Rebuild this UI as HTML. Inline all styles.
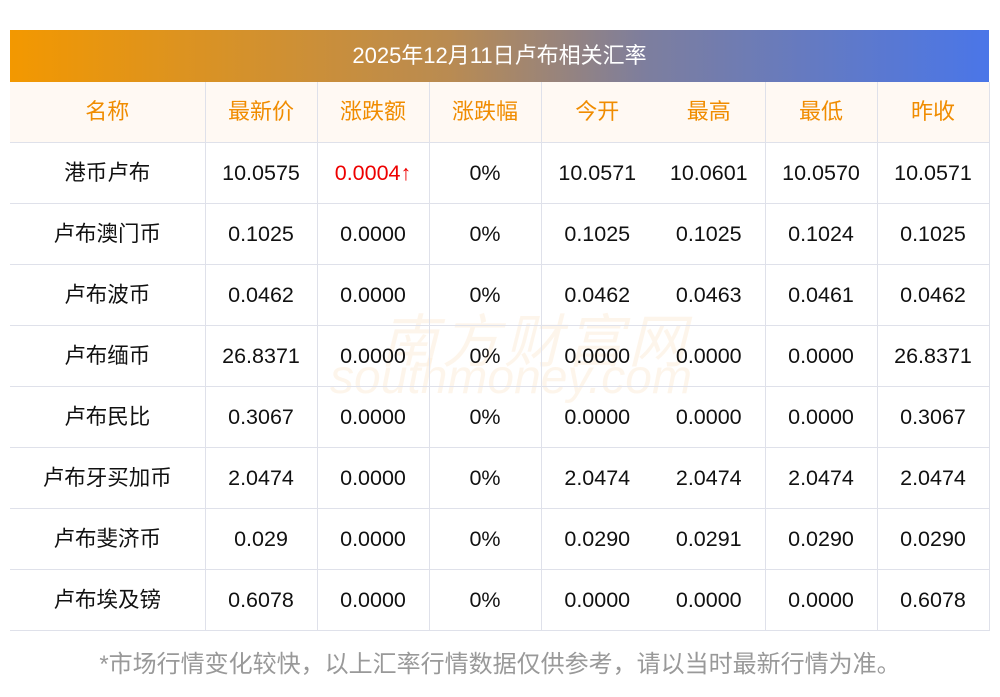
<!DOCTYPE html>
<html><head><meta charset="utf-8"><style>
body{margin:0;background:#fff;width:1000px;height:697px;position:relative;overflow:hidden;font-family:"Liberation Sans","Noto Sans CJK SC",sans-serif}
.bar{position:absolute;left:10px;top:30px;width:979px;height:52px;background:linear-gradient(90deg,#f39800,#b98b52 45%,#7d7e9e 65%,#4a76e8);color:#fff;font-size:22px;text-align:center;line-height:52px}
table{position:absolute;left:10px;top:82px;border-collapse:collapse;table-layout:fixed;width:979px}
td{height:60px;border-bottom:1px solid #dfe1ea;text-align:center;font-size:21.5px;line-height:24px;color:#111;padding:0;vertical-align:middle}
tr.h td{background:#fff9f3;color:#f08c00;font-size:22px}
td.b{border-right:1px solid #dfe1ea}
.r{color:#e00}
.wm{position:absolute;color:#fdeedc;opacity:.55;font-style:italic}
.ft{position:absolute;top:650px;left:0;width:1000px;text-align:center;color:#999;font-size:24px;line-height:30px}
</style></head><body>
<div class="bar">2025年12月11日卢布相关汇率</div>
<div class="wm" style="left:380px;top:295px;font-size:58px;letter-spacing:4px">南方财富网</div>
<div class="wm" style="left:330px;top:350px;font-size:48px">southmoney.com</div>
<table>
<colgroup><col style="width:195px"><col style="width:112px"><col style="width:112px"><col style="width:112px"><col style="width:112px"><col style="width:112px"><col style="width:112px"><col style="width:112px"></colgroup>
<tr class="h"><td class="b">名称</td><td class="b">最新价</td><td class="b">涨跌额</td><td class="b">涨跌幅</td><td>今开</td><td class="b">最高</td><td class="b">最低</td><td class="b">昨收</td></tr>
<tr><td class="b">港币卢布</td><td class="b">10.0575</td><td class="b r">0.0004↑</td><td class="b">0%</td><td>10.0571</td><td class="b">10.0601</td><td class="b">10.0570</td><td class="b">10.0571</td></tr>
<tr><td class="b">卢布澳门币</td><td class="b">0.1025</td><td class="b">0.0000</td><td class="b">0%</td><td>0.1025</td><td class="b">0.1025</td><td class="b">0.1024</td><td class="b">0.1025</td></tr>
<tr><td class="b">卢布波币</td><td class="b">0.0462</td><td class="b">0.0000</td><td class="b">0%</td><td>0.0462</td><td class="b">0.0463</td><td class="b">0.0461</td><td class="b">0.0462</td></tr>
<tr><td class="b">卢布缅币</td><td class="b">26.8371</td><td class="b">0.0000</td><td class="b">0%</td><td>0.0000</td><td class="b">0.0000</td><td class="b">0.0000</td><td class="b">26.8371</td></tr>
<tr><td class="b">卢布民比</td><td class="b">0.3067</td><td class="b">0.0000</td><td class="b">0%</td><td>0.0000</td><td class="b">0.0000</td><td class="b">0.0000</td><td class="b">0.3067</td></tr>
<tr><td class="b">卢布牙买加币</td><td class="b">2.0474</td><td class="b">0.0000</td><td class="b">0%</td><td>2.0474</td><td class="b">2.0474</td><td class="b">2.0474</td><td class="b">2.0474</td></tr>
<tr><td class="b">卢布斐济币</td><td class="b">0.029</td><td class="b">0.0000</td><td class="b">0%</td><td>0.0290</td><td class="b">0.0291</td><td class="b">0.0290</td><td class="b">0.0290</td></tr>
<tr><td class="b">卢布埃及镑</td><td class="b">0.6078</td><td class="b">0.0000</td><td class="b">0%</td><td>0.0000</td><td class="b">0.0000</td><td class="b">0.0000</td><td class="b">0.6078</td></tr>
</table>
<div class="ft">*市场行情变化较快，以上汇率行情数据仅供参考，请以当时最新行情为准。</div>
</body></html>
